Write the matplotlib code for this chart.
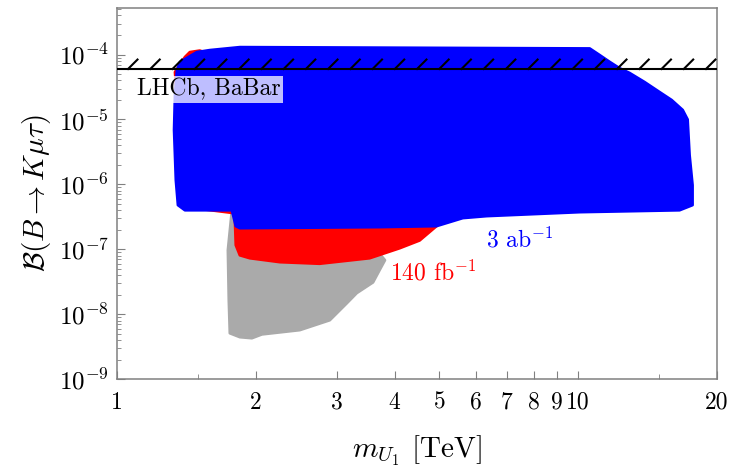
import matplotlib
matplotlib.use("Agg")
import matplotlib.pyplot as plt
import matplotlib.patheffects as pe
from matplotlib.ticker import FixedLocator, FixedFormatter, LogLocator, NullFormatter

plt.rcParams['font.family'] = 'serif'
plt.rcParams['font.serif'] = ['cmr10']
plt.rcParams['mathtext.fontset'] = 'cm'
plt.rcParams['axes.unicode_minus'] = False

# outlines of the scan regions (m_U1 in TeV, branching ratio)
gray_m = [1.775, 1.74, 1.748, 1.757, 1.847, 1.961, 2.062, 2.491, 2.893, 3.15, 3.31,
          3.59, 3.71, 3.81, 3.36]
gray_br = [4.0e-7, 9.7e-8, 1.65e-8, 5.1e-9, 4.44e-9, 4.28e-9, 4.9e-9, 5.7e-9, 8.1e-9,
           1.48e-8, 2.12e-8, 3.1e-8, 4.8e-8, 6.8e-8, 2.0e-7]

red_m = [1.336, 1.404, 1.439, 1.512, 1.60, 4.93, 4.53, 4.10, 3.53, 2.75, 2.255, 1.941,
         1.847, 1.81, 1.80, 1.40, 1.35]
red_br = [5.37e-5, 9.15e-5, 1.09e-4, 1.15e-4, 1.0e-4, 2.28e-7, 1.37e-7, 1.04e-7,
          7.3e-8, 6.0e-8, 6.35e-8, 7.3e-8, 8.1e-8, 1.16e-7, 3.6e-7, 4.5e-7, 2.0e-5]

blue_m = [1.370, 1.490, 1.590, 1.847, 10.59, 11.13, 11.70, 12.29, 12.92, 13.93, 15.01,
          15.94, 16.84, 17.26, 17.43, 17.69, 17.69, 16.58, 10.07, 6.33, 5.62, 4.93,
          3.71, 1.847, 1.81, 1.775, 1.404, 1.356, 1.342, 1.33, 1.336, 1.349]
blue_br = [7.67e-5, 1.09e-4, 1.17e-4, 1.30e-4, 1.24e-4, 9.8e-5, 7.7e-5, 6.15e-5, 5.2e-5,
           3.76e-5, 2.64e-5, 1.99e-5, 1.40e-5, 1.0e-5, 2.82e-6, 9.75e-7, 4.8e-7, 4.0e-7,
           3.74e-7, 3.25e-7, 3.03e-7, 2.28e-7, 2.2e-7, 2.12e-7, 2.28e-7, 4.0e-7, 4.0e-7,
           4.8e-7, 1.16e-6, 6.9e-6, 2.38e-5, 5.7e-5]

limit = 6.0e-5  # LHCb, BaBar bound

xticks = [1, 2, 3, 4, 5, 6, 7, 8, 9, 10, 20]
xtick_labels = ['1', '2', '3', '4', '5', '6', '7', '8', '9', '10', '20']
xminor = [1.5, 15]
yticks = [1e-9, 1e-8, 1e-7, 1e-6, 1e-5, 1e-4]
ytick_labels = [r'$10^{-9}$', r'$10^{-8}$', r'$10^{-7}$', r'$10^{-6}$', r'$10^{-5}$', r'$10^{-4}$']

fig = plt.figure(figsize=(7.31, 4.71), dpi=100)
ax = fig.add_axes([0.160, 0.195, 0.821, 0.789])
ax.set_xscale('log')
ax.set_yscale('log')
ax.set_xlim(1, 20)
ax.set_ylim(1e-9, 5.3e-4)

ax.fill(gray_m, gray_br, color='#aaaaaa', lw=2, joinstyle='round', zorder=1)
ax.fill(red_m, red_br, color='#ff0000', lw=2, joinstyle='round', zorder=2)
ax.fill(blue_m, blue_br, color='#0000ff', lw=2, joinstyle='round', zorder=3)

ax.axhline(limit, color='black', lw=1.5, zorder=4,
           path_effects=[pe.withTickedStroke(angle=45, spacing=16, length=0.6)])

ax.text(1.105, 2.9e-5, 'LHCb, BaBar', fontsize=17, ha='left', va='center', zorder=5,
        bbox=dict(facecolor='white', alpha=0.75, edgecolor='none', pad=2))
ax.text(6.3, 1.39e-7, r'3 ab$^{-1}$', color='#0000ff', fontsize=17, ha='left', va='center')
ax.text(3.9, 4.3e-8, r'140 fb$^{-1}$', color='#ff0000', fontsize=17, ha='left', va='center')

ax.xaxis.set_major_locator(FixedLocator(xticks))
ax.xaxis.set_major_formatter(FixedFormatter(xtick_labels))
ax.xaxis.set_minor_locator(FixedLocator(xminor))
ax.xaxis.set_minor_formatter(NullFormatter())
ax.yaxis.set_major_locator(FixedLocator(yticks))
ax.yaxis.set_major_formatter(FixedFormatter(ytick_labels))
ax.yaxis.set_minor_locator(LogLocator(base=10, subs=range(2, 10), numticks=20))
ax.yaxis.set_minor_formatter(NullFormatter())

ax.tick_params(which='both', direction='in', color='#808080', labelsize=17)
ax.tick_params(axis='y', which='major', labelsize=18)
ax.tick_params(axis='x', which='major', length=6, pad=9)
ax.tick_params(axis='x', which='minor', length=3.5)
ax.tick_params(axis='y', which='major', length=6, pad=6)
ax.tick_params(axis='y', which='minor', length=3)
for s in ax.spines.values():
    s.set_color('#808080')
    s.set_linewidth(1.1)

ax.set_xlabel(r'$m_{U_1}$ [TeV]', fontsize=21, labelpad=14)
ax.set_ylabel(r'$\mathcal{B}(B\to K\mu\tau)$', fontsize=21, labelpad=4)

fig.savefig('out.png', dpi=100)
